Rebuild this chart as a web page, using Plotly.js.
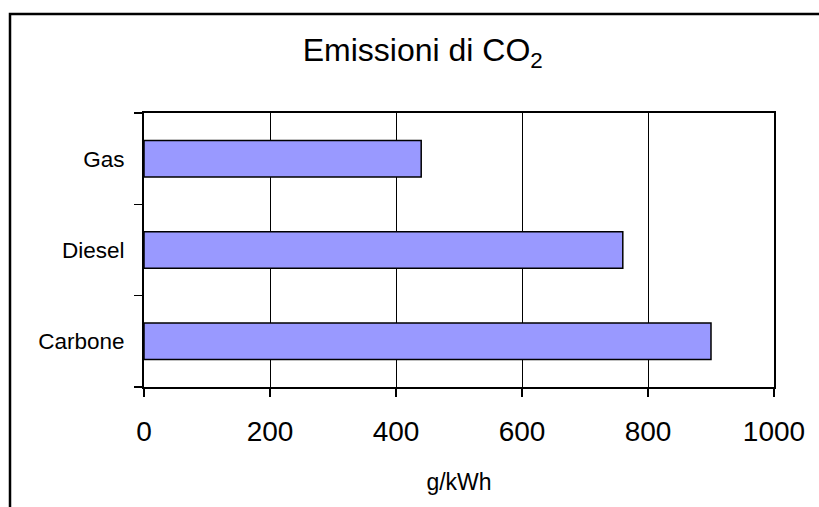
<!DOCTYPE html>
<html>
<head>
<meta charset="utf-8">
<script src="https://cdn.plot.ly/plotly-3.0.1.min.js"></script>
<style>html,body{margin:0;padding:0;background:#fff;}#chart{width:819px;height:507px;}</style>
</head>
<body>
<div id="chart"></div>
<script>
const categories = ["Carbone", "Diesel", "Gas"];
const values = [900, 760, 440];
const xTicks = [0, 200, 400, 600, 800, 1000];

const FONT = "Liberation Sans, Arial, sans-serif";

const trace = {
  type: "bar",
  orientation: "h",
  y: categories,
  x: values,
  marker: {color: "#9999FF", line: {color: "#000000", width: 1.5}},
  hoverinfo: "none"
};

// outer chart-area frame (only left and top edges fall inside the picture)
const fx0 = (10 - 144) / 630, fx1 = 1.5;
const fy0 = -1.0, fy1 = (387 - 14) / 274;

const layout = {
  width: 819,
  height: 507,
  margin: {l: 144, r: 45, t: 113, b: 120, pad: 0},
  paper_bgcolor: "#ffffff",
  plot_bgcolor: "#ffffff",
  showlegend: false,
  bargap: 0.6,
  font: {family: FONT, color: "#000000"},
  title: {
    text: "Emissioni di CO<sub>2</sub>",
    font: {family: FONT, size: 32, color: "#000000"},
    xref: "container", x: 0.3696, xanchor: "left",
    yref: "container", y: 1 - 50 / 507, yanchor: "middle"
  },
  xaxis: {
    range: [0, 1000],
    tickvals: xTicks,
    ticktext: xTicks.map(String),
    ticks: "outside", ticklen: 8, tickwidth: 1.5, tickcolor: "#000",
    tickfont: {family: FONT, size: 28, color: "#000"},
    ticklabelstandoff: 10,
    showline: true, linecolor: "#000", linewidth: 2, mirror: true,
    showgrid: true, gridcolor: "#000", gridwidth: 1,
    zeroline: false,
    title: {text: "g/kWh", font: {family: FONT, size: 23, color: "#000"}, standoff: 28}
  },
  yaxis: {
    type: "category",
    tickson: "boundaries",
    ticks: "outside", ticklen: 8, tickwidth: 1.5, tickcolor: "#000",
    tickfont: {family: FONT, size: 22.5, color: "#000"},
    ticklabelstandoff: 13,
    showline: true, linecolor: "#000", linewidth: 2, mirror: true,
    showgrid: false, zeroline: false
  },
  shapes: [{
    type: "path", xref: "paper", yref: "paper",
    path: "M " + fx0 + "," + fy0 + " L " + fx0 + "," + fy1 + " L " + fx1 + "," + fy1,
    line: {color: "#000", width: 2.5}, layer: "below"
  }]
};

Plotly.newPlot("chart", [trace], layout, {displayModeBar: false, staticPlot: true});
</script>
</body>
</html>
